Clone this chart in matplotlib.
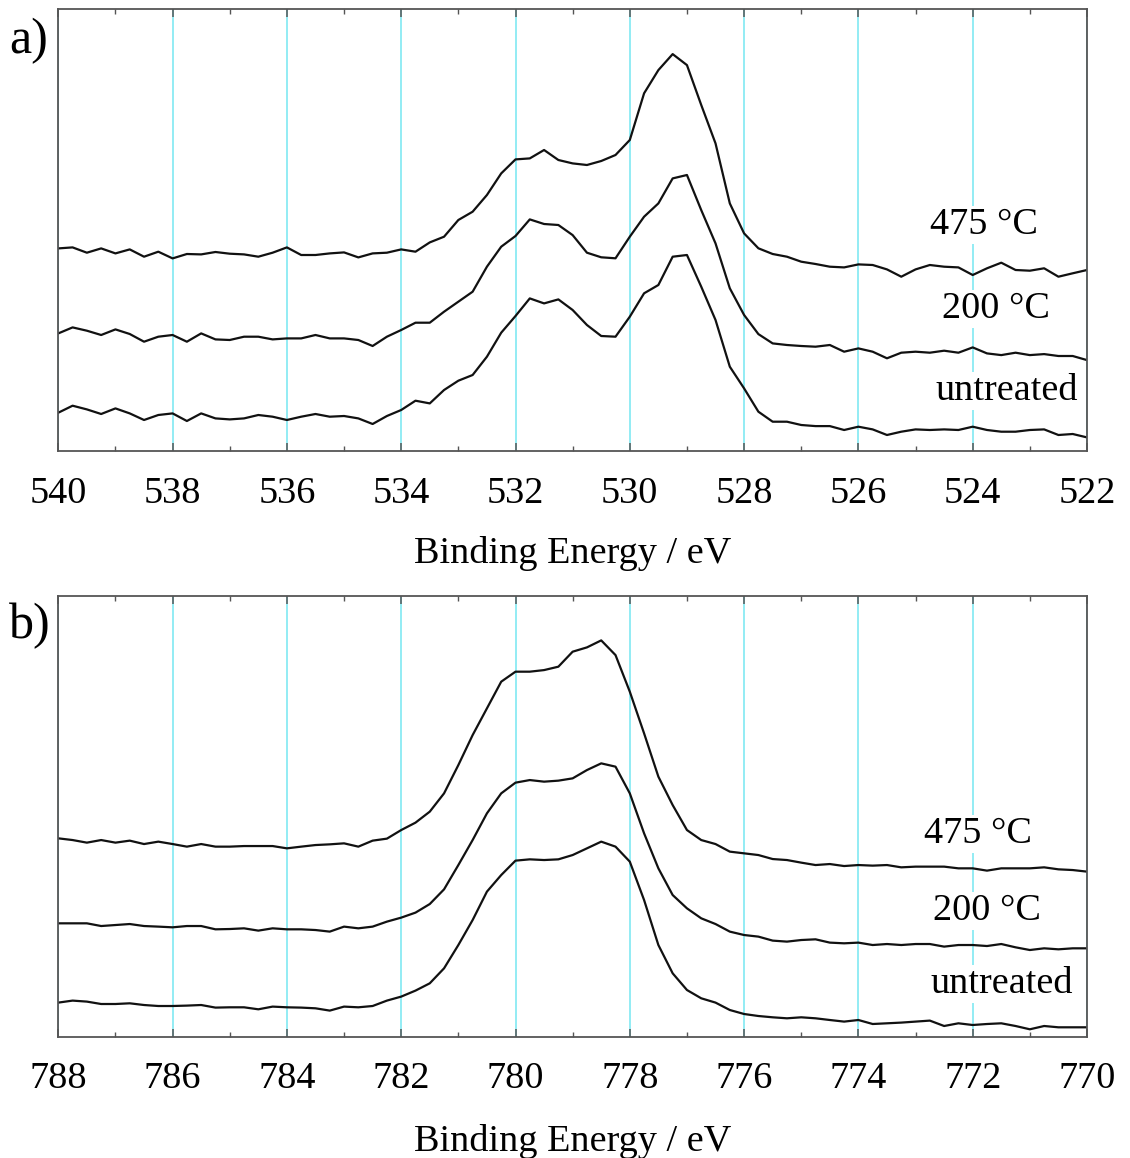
import numpy as np
import matplotlib
matplotlib.use('Agg')
import matplotlib.pyplot as plt
from matplotlib.ticker import MultipleLocator

plt.rcParams['font.family'] = ['Liberation Serif', 'DejaVu Serif']

# O 1s region, measured on a 0.25 eV grid from 540 to 522 eV
energy_o = np.arange(540.0, 521.99, -0.25)
o_475 = [202.3, 203.3, 198, 202.3, 197.3, 201.3, 194, 199, 192.3, 196.7,
         196.3, 198.7, 197, 196.3, 194, 198, 203.3, 195.7, 195.7, 197.3,
         198.3, 193.3, 197.3, 198, 201.3, 199, 208.3, 214, 230.7, 239,
         255.7, 277.3, 291.3, 292.3, 300.7, 290.7,
         287.3, 285.7, 289.7, 295.7, 310.7, 357.4, 380.6, 396.6, 385.6, 345.7,
         307.3, 247.3, 217.3, 202.4, 196.7, 194.0, 189.0, 186.7, 184.0, 183.3,
         186.3, 185.7, 181.3, 174.0, 181.3, 185.7, 184.0, 183.3, 175.7, 182.4,
         188.0, 180.7, 180.0, 182.4, 174.0, 177.4, 180.7]
o_200 = [117.3, 123.3, 120, 115.7, 121.3, 116.7, 109, 114, 115.7, 109,
         117.3, 111.3, 110.7, 114, 114, 111.3, 112.3, 112.3, 115.7, 112.3,
         112.3, 110.7, 104.7, 114, 120.7, 128, 128, 139, 149, 159,
         184, 204, 214.7, 231.3, 226.7, 225.7,
         215.6, 198.0, 193.4, 192.4, 214.0, 234.0, 247.3, 272.3, 275.7, 240.6,
         207.3, 162.4, 135.7, 116.6, 107.3, 105.7, 104.7, 104.0, 105.7, 99.0,
         102.3, 99.0, 92.4, 98.0, 99.0, 98.0, 100.0, 98.0, 103.3, 97.3,
         95.6, 98.0, 95.6, 96.6, 94.7, 94.7, 90.6]
o_untreated = [38, 45, 41.3, 36.7, 42.3, 37.3, 30.7, 35.7, 37.3, 29.7,
               37.3, 32.3, 31.3, 32.3, 35.7, 34, 30.7, 34, 36.7, 34,
               34.7, 32.3, 26.7, 34.7, 40.7, 50, 47.3, 60.7, 70, 75.7,
               94, 118, 134.7, 152.3, 147.3, 151.3,
               140.7, 125.7, 114.7, 114.0, 134.0, 157.4, 165.7, 194.0, 195.7, 164.0,
               130.7, 84.0, 62.3, 39.0, 29.0, 29.0, 25.7, 24.6, 24.6, 20.7,
               24.0, 21.3, 15.7, 19.0, 21.3, 20.7, 21.3, 20.7, 24.0, 20.7,
               19.0, 19.0, 20.7, 21.3, 15.7, 16.7, 13.3]

# Fe 2p3/2 region, 0.25 eV grid from 788 to 770 eV
energy_fe = np.arange(788.0, 769.99, -0.25)
fe_475 = [199, 197.3, 194.7, 197.3, 194.7, 196.7, 193.3, 195.7, 193.3, 190.7,
          193.3, 190.7, 190.7, 191.3, 191.3, 191.3, 189, 190.7, 192.3, 193,
          194, 190.7, 196.7, 198.7, 207.3, 214.7, 225.7, 244, 272.3, 302.3,
          329, 355.7, 365.7, 365.7, 367.3, 370.7,
          385.7, 390, 397, 382.3, 345.7, 304, 260.7, 232.3, 207.3, 197.3,
          193.3, 185.7, 184, 182.3, 178.3, 177.3, 174.7, 172.3, 173.3, 171.3,
          172.3, 171.7, 172.3, 170, 170.7, 170.7, 170.7, 169, 169, 166.7,
          169, 169, 169, 170, 168, 167.3, 165.7]
fe_200 = [114, 114, 114, 111.3, 112.3, 113.3, 111.3, 110.7, 110, 111.3,
          111.3, 108, 108.3, 109, 106.7, 109, 108, 108, 107.3, 105.7,
          110.7, 109, 110.7, 115.7, 119.7, 124.7, 133.3, 148, 172.3, 197.3,
          224, 244, 254.7, 257.3, 255.7, 256.7,
          259, 267.3, 274, 270.7, 244, 204, 169, 142.3, 129, 119,
          113.3, 105.7, 102.3, 100.7, 96.7, 95.7, 97.3, 98, 94.7, 94,
          94.7, 92.3, 93.3, 92.3, 93.3, 93.3, 90.7, 92.3, 92.3, 91.3,
          93.3, 90, 87.3, 89, 88, 89, 89]
fe_untreated = [34.7, 36.7, 35.7, 33.3, 33.3, 34, 32.3, 31.3, 31.3, 31.7,
                32.3, 29.7, 30, 30, 28, 30.7, 30, 29.7, 29, 26.7,
                30.7, 30, 31.3, 36.7, 40.7, 46.7, 54, 69, 92.3, 117.3,
                145.7, 162.3, 176.7, 178, 177.3, 178,
                182.3, 189, 195.7, 190.7, 175.7, 137.3, 92.3, 64, 47.3, 39,
                34.7, 27.3, 23.3, 21.3, 20, 19, 20, 19, 17.3, 15.7,
                17.3, 13.3, 14, 14.7, 15.7, 16.7, 11.3, 14, 12.3, 13.3,
                14, 11.3, 8, 11.3, 10, 10, 10]

labels = ['475 °C', '200 °C', 'untreated']
label_pos_o = [(523.8, 216.7), (523.6, 132.7), (523.4, 50.7)]
label_pos_fe = [(771.9, 194.3), (771.75, 117.3), (771.5, 44.3)]

W, H = 1130, 1158
fig = plt.figure(figsize=(W / 100, H / 100), dpi=100)
ax_a = fig.add_axes([58.3 / W, 1 - 450.7 / H, (1087 - 58.3) / W, 441.4 / H])
ax_b = fig.add_axes([58.3 / W, 1 - 1037.3 / H, (1087 - 58.3) / W, 441.3 / H])

panels = [
    (ax_a, energy_o, [o_475, o_200, o_untreated], (540, 522), label_pos_o, 18.5, 18),
    (ax_b, energy_fe, [fe_475, fe_200, fe_untreated], (788, 770), label_pos_fe, 17.5, 20),
]

for ax, x, curves, xlim, lpos, tpad, lpad in panels:
    for y in curves:
        ax.plot(x, y, color='#111111', lw=1.6, zorder=2)
    for text, (lx, ly) in zip(labels, lpos):
        ax.text(lx, ly, text, fontsize=27.5, ha='center', va='baseline', zorder=3,
                bbox=dict(facecolor='white', edgecolor='none', pad=1))
    ax.set_xlim(*xlim)
    ax.set_ylim(0, 441.4)
    ax.xaxis.set_major_locator(MultipleLocator(2))
    ax.xaxis.set_minor_locator(MultipleLocator(1))
    ax.set_yticks([])
    ax.grid(axis='x', which='major', color='#80e9f2', lw=1.2, zorder=1)
    ax.tick_params(axis='x', which='both', direction='in', top=True, bottom=True,
                   color='#555555', labelsize=27.5, pad=tpad)
    ax.tick_params(axis='x', which='major', length=5.5, width=1.1)
    ax.tick_params(axis='x', which='minor', length=3.5, width=1.0)
    for s in ax.spines.values():
        s.set_color('#555555')
        s.set_linewidth(1.3)
    ax.set_xlabel('Binding Energy / eV', fontsize=27.5, labelpad=lpad)

fig.text(9 / W, 1 - 53 / H, 'a)', fontsize=36, ha='left', va='baseline')
fig.text(9 / W, 1 - 638 / H, 'b)', fontsize=36, ha='left', va='baseline')

fig.savefig('out.png', dpi=100)
